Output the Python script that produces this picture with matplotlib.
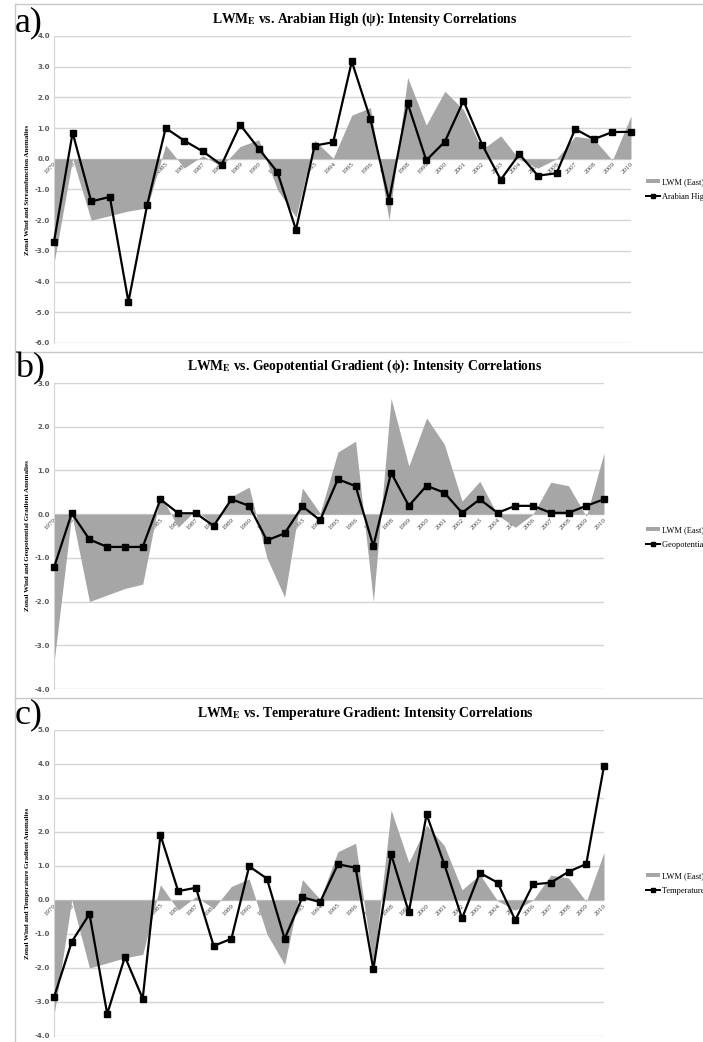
import matplotlib.pyplot as plt
from matplotlib.patches import Patch
from matplotlib.lines import Line2D

years = list(range(1979, 2011))
year_labels = [str(y) for y in years]

# LWM (East) zonal wind anomaly, same in all three panels
lwm_east = [-3.4, 0.0, -2.0, -1.85, -1.7, -1.6, 0.45, -0.3, 0.1, -0.25, 0.4, 0.62, -1.0, -1.9, 0.6, 0.02,
            1.42, 1.67, -2.0, 2.65, 1.1, 2.2, 1.6, 0.3, 0.75, -0.02, -0.3, 0.0, 0.73, 0.65, -0.05, 1.4]

arabian_high = [-2.7, 0.85, -1.39, -1.24, -4.66, -1.52, 1.0, 0.59, 0.24, -0.2, 1.11, 0.33, -0.43, -2.31, 0.43, 0.54,
                3.17, 1.29, -1.36, 1.81, -0.05, 0.56, 1.89, 0.46, -0.68, 0.15, -0.55, -0.47, 0.97, 0.64, 0.87, 0.88]

geo_gradient = [-1.22, 0.02, -0.58, -0.75, -0.75, -0.75, 0.34, 0.02, 0.02, -0.27, 0.34, 0.19, -0.6, -0.44, 0.18, -0.14,
                0.8, 0.64, -0.73, 0.95, 0.19, 0.65, 0.49, 0.03, 0.34, 0.03, 0.19, 0.19, 0.03, 0.03, 0.19, 0.34]

temp_gradient = [-2.86, -1.23, -0.41, -3.35, -1.67, -2.9, 1.91, 0.26, 0.36, -1.35, -1.14, 0.99, 0.63, -1.14, 0.08, -0.06,
                 1.05, 0.95, -2.04, 1.35, -0.36, 2.52, 1.05, -0.54, 0.8, 0.51, -0.59, 0.46, 0.51, 0.83, 1.06, 3.94]

plt.rcParams['mathtext.fontset'] = 'stix'
SERIF = 'Liberation Serif'
AREA = '#a6a6a6'
GRID = '#d4d4d4'
FW, FH = 703, 1042

fig = plt.figure(figsize=(FW / 100, FH / 100), dpi=100)


def px(x0, y0, x1, y1):
    # pixel box (top-left origin) -> figure fraction rect
    return [x0 / FW, 1 - y1 / FH, (x1 - x0) / FW, (y1 - y0) / FH]


def panel(rect, series, name, ylabel, ylim, title, title_y, letter, letter_y, leg_y):
    ax = fig.add_axes(rect)
    # spine first: set_position resets the tick labels
    ax.spines['bottom'].set_position(('data', 0))
    ax.spines['bottom'].set_color('none')
    for s in ('top', 'right'):
        ax.spines[s].set_visible(False)
    ax.spines['left'].set_color(GRID)

    ax.fill_between(years, 0, lwm_east, color=AREA, lw=0, zorder=2)
    ax.plot(years, series, color='black', lw=1.6, marker='s', ms=5, zorder=3, clip_on=False)
    ax.set_xlim(years[0], years[-1])
    ax.set_ylim(*ylim)
    ax.set_yticks(range(ylim[0], ylim[1] + 1))
    ax.set_yticklabels(['%.1f' % v for v in range(ylim[0], ylim[1] + 1)],
                       fontsize=5, fontweight='bold', color='#595959')
    ax.yaxis.grid(True, color=GRID, lw=1, zorder=0)
    ax.set_axisbelow(True)
    ax.set_xticks(years)
    ax.set_xticklabels(year_labels, rotation=45, ha='right', rotation_mode='anchor',
                       fontsize=5, family=SERIF, color='#404040')
    ax.tick_params(length=0, pad=3)
    ax.tick_params(axis='x', pad=2)
    ax.set_ylabel(ylabel, fontsize=5, fontweight='bold', family=SERIF)
    ax.yaxis.set_label_coords(-24 / (rect[2] * FW), 0.5)

    fig.text(365 / FW, 1 - title_y / FH, title, ha='center', va='center',
             fontsize=9.8, fontweight='bold', family=SERIF)
    fig.text(15 / FW, 1 - letter_y / FH, letter, ha='left', va='baseline',
             fontsize=26, family=SERIF)

    handles = [Patch(color=AREA, lw=0),
               Line2D([], [], color='black', lw=1.4, marker='s', ms=3.5)]
    fig.legend(handles, ['LWM (East)', name], loc='upper left',
               bbox_to_anchor=(646 / FW, 1 - leg_y / FH), frameon=False,
               prop={'family': SERIF, 'size': 6}, handlelength=1.7, handleheight=0.5,
               handletextpad=0.2, labelspacing=0.8, borderaxespad=0, borderpad=0)
    return ax


panel(px(54, 36, 631, 343), arabian_high, 'Arabian High',
      'Zonal Wind and Streamfunction Anomalies', (-6, 4),
      r'LWM$_{\mathbf{E}}$ vs. Arabian High (ψ): Intensity Correlations', 19, 'a)', 31, 178)
panel(px(54, 383, 604, 689), geo_gradient, 'Geopotential Gradient',
      'Zonal Wind and Geopotential Gradient Anomalies', (-4, 3),
      r'LWM$_{\mathbf{E}}$ vs. Geopotential Gradient (ϕ): Intensity Correlations', 366, 'b)', 377, 526)
panel(px(54, 730, 604, 1036), temp_gradient, 'Temperature Gradient',
      'Zonal Wind and Temperature Gradient Anomalies', (-4, 5),
      r'LWM$_{\mathbf{E}}$ vs. Temperature Gradient: Intensity Correlations', 713, 'c)', 723, 872)

# outer chart-area frames
FRAME = '#c8c8c8'
for y in (4, 352, 698):
    fig.add_artist(Line2D([15 / FW, 1], [1 - y / FH] * 2, color=FRAME, lw=1))
fig.add_artist(Line2D([15 / FW] * 2, [1 - 4 / FH, 0], color=FRAME, lw=1))

fig.savefig('out.png', dpi=100)
